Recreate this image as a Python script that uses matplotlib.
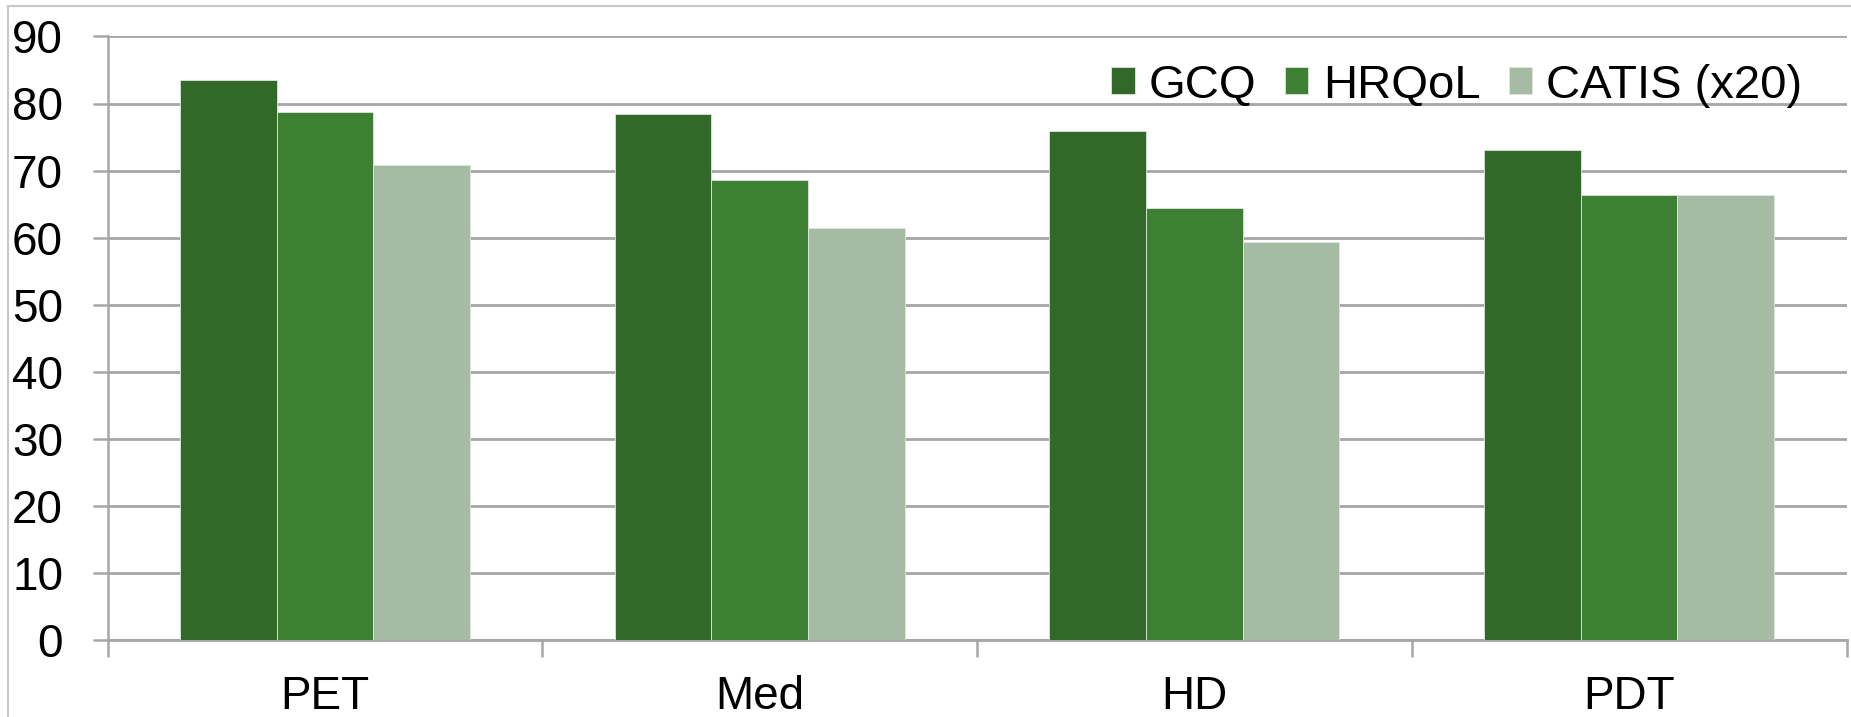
import matplotlib
matplotlib.use("Agg")
import matplotlib.pyplot as plt
import numpy as np
from matplotlib.lines import Line2D

plt.rcParams['font.family'] = ['Liberation Sans', 'DejaVu Sans']

categories = ["PET", "Med", "HD", "PDT"]
series_names = ["GCQ", "HRQoL", "CATIS (x20)"]
gcq = [83.5, 78.5, 75.9, 73.0]
hrqol = [78.8, 68.6, 64.4, 66.3]
catis_x20 = [70.9, 61.5, 59.3, 66.3]
colors = ["#326828", "#3d8033", "#a5bba4"]
yticks = [0, 10, 20, 30, 40, 50, 60, 70, 80, 90]

W, H = 1851, 717
fig = plt.figure(figsize=(W / 100, H / 100), dpi=100)
ax = fig.add_axes([107.5 / W, 1 - 640.3 / H, (1846.5 - 107.5) / W, (640.3 - 36.4) / H])

grid_c = "#a6a6a6"
n = len(categories)
x = np.arange(n)
bw = 1 / 4.5  # gap width 150%
for i, vals in enumerate([gcq, hrqol, catis_x20]):
    ax.bar(x + (i - 1) * bw, vals, width=bw, color=colors[i],
           edgecolor="#dfe6df", linewidth=0.6, label=series_names[i], zorder=3)

ax.set_xlim(-0.5, n - 0.5)
ax.set_ylim(0, 90)
ax.set_yticks(yticks)
ax.set_yticklabels([str(v) for v in yticks])
for v in yticks:
    ax.axhline(v, color=grid_c, lw=2, zorder=1)

# category labels centered, ticks at category boundaries
ax.set_xticks(np.arange(-0.5, n, 1.0))
ax.set_xticklabels([])
ax.set_xticks(x, minor=True)
ax.set_xticklabels(categories, minor=True)
ax.tick_params(axis="x", which="major", length=12, width=1.8, color=grid_c)
ax.tick_params(axis="x", which="minor", length=0, pad=25, labelsize=33)
ax.tick_params(axis="y", length=11, width=1.8, color=grid_c, labelsize=33, pad=21)

for s in ["top", "right"]:
    ax.spines[s].set_visible(False)
ax.spines["left"].set_color(grid_c)
ax.spines["left"].set_linewidth(1.8)
ax.spines["bottom"].set_color(grid_c)
ax.spines["bottom"].set_linewidth(2)

leg = ax.legend(loc="upper right", bbox_to_anchor=(0.991, 1.002), ncol=3,
                frameon=False, fontsize=34, handlelength=0.5, handleheight=0.5,
                handletextpad=0.3, columnspacing=0.6, borderaxespad=0.2)

# chart area frame along the top and left edges
fig.add_artist(Line2D([8 / W, 8 / W], [0, 1 - 6 / H], color="#c8c8c8", lw=1.5,
                      transform=fig.transFigure))
fig.add_artist(Line2D([8 / W, 1], [1 - 6 / H, 1 - 6 / H], color="#c8c8c8", lw=1.5,
                      transform=fig.transFigure))

fig.savefig("out.png", dpi=100)
